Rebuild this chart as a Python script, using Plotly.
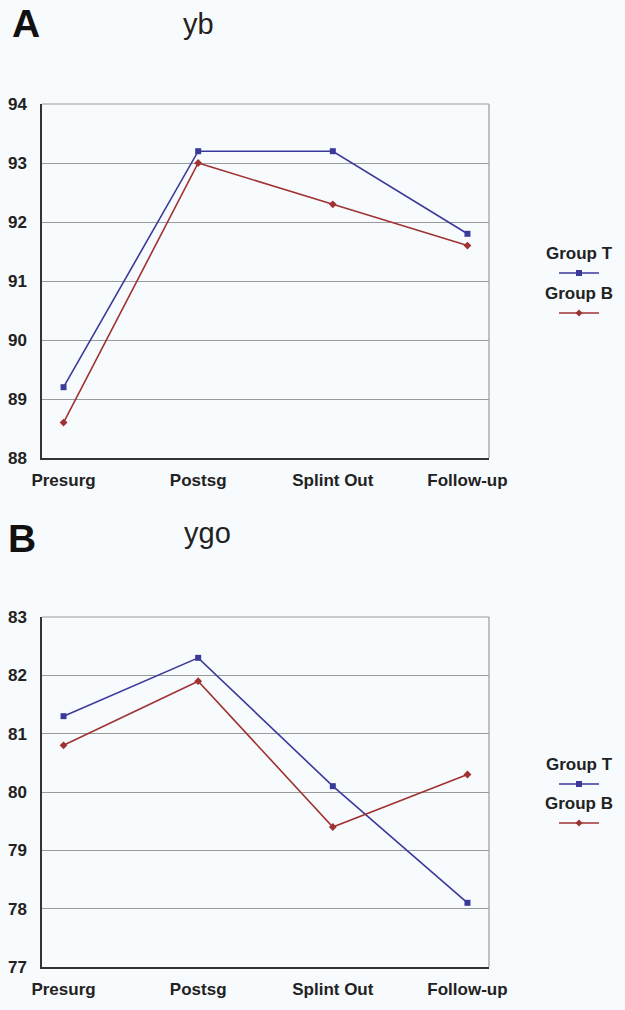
import plotly.graph_objects as go

categories = ["Presurg", "Postsg", "Splint Out", "Follow-up"]
yb_group_t = [89.2, 93.2, 93.2, 91.8]
yb_group_b = [88.6, 93.0, 92.3, 91.6]
ygo_group_t = [81.3, 82.3, 80.1, 78.1]
ygo_group_b = [80.8, 81.9, 79.4, 80.3]
yb_ticks = [88, 89, 90, 91, 92, 93, 94]
ygo_ticks = [77, 78, 79, 80, 81, 82, 83]
series_names = ["Group T", "Group B"]

BLUE = "#3a3a9a"
RED = "#a03232"
BG = "#f8fbfd"
FONT = "Liberation Sans, Arial, sans-serif"
W, H = 625, 1010

def px(x):
    return x / W

def py(y):
    return 1 - y / H

fig = go.Figure()

def add_panel(ax, yt, yb_):
    xa = "x" if ax == 1 else "x2"
    ya = "y" if ax == 1 else "y2"
    fig.add_trace(go.Scatter(x=categories, y=yt, xaxis=xa, yaxis=ya, mode="lines+markers",
                             name=series_names[0], line=dict(color=BLUE, width=1.6),
                             marker=dict(symbol="square", size=6, color=BLUE), showlegend=False))
    fig.add_trace(go.Scatter(x=categories, y=yb_, xaxis=xa, yaxis=ya, mode="lines+markers",
                             name=series_names[1], line=dict(color=RED, width=1.6),
                             marker=dict(symbol="diamond", size=6, color=RED), showlegend=False))

add_panel(1, yb_group_t, yb_group_b)
add_panel(2, ygo_group_t, ygo_group_b)

axis_font = dict(family=FONT, size=17, color="#222", weight="bold")
common_x = dict(domain=[px(42), px(489)], type="category", range=[-0.16, 3.16], showline=True,
                linecolor="#333", linewidth=1.5, showgrid=False, ticks="", tickfont=axis_font,
                fixedrange=True, ticklabelstandoff=6, automargin=False)
common_y = dict(showline=True, linecolor="#333", linewidth=1.5, showgrid=True,
                gridcolor="#9a9a9a", gridwidth=1, ticks="", tickfont=axis_font, zeroline=False,
                ticklabelstandoff=10, fixedrange=True, automargin=False)

fig.update_layout(
    width=W, height=H, autosize=False,
    margin=dict(l=0, r=0, t=0, b=0, pad=0, autoexpand=False),
    paper_bgcolor=BG, plot_bgcolor=BG, showlegend=False,
    xaxis=dict(**common_x, anchor="y"),
    yaxis=dict(**common_y, domain=[py(458), py(104)], range=[88, 94], tickvals=yb_ticks, anchor="x"),
    xaxis2=dict(**common_x, anchor="y2"),
    yaxis2=dict(**common_y, domain=[py(967), py(617)], range=[77, 83], tickvals=ygo_ticks, anchor="x2"),
)

for ya, xr in [("y", "x domain"), ("y2", "x2 domain")]:
    fig.add_shape(type="line", xref=xr, yref=ya + " domain", x0=1, x1=1, y0=0, y1=1,
                  line=dict(color="#9a9a9a", width=1.2))
    fig.add_shape(type="line", xref=xr, yref=ya + " domain", x0=0, x1=1, y0=1, y1=1,
                  line=dict(color="#9a9a9a", width=1))

ann = []
ann.append(dict(text="<b>A</b>", x=px(26), y=py(23), xanchor="center", yanchor="middle",
                font=dict(family=FONT, size=39, color="#111")))
ann.append(dict(text="yb", x=px(198), y=py(24), xanchor="center", yanchor="middle",
                font=dict(family=FONT, size=29, color="#222")))
ann.append(dict(text="<b>B</b>", x=px(22), y=py(538), xanchor="center", yanchor="middle",
                font=dict(family=FONT, size=39, color="#111")))
ann.append(dict(text="ygo", x=px(207), y=py(533), xanchor="center", yanchor="middle",
                font=dict(family=FONT, size=29, color="#222")))

def legend(y_t, y_b):
    for name, yy, col, sym in [(series_names[0], y_t, BLUE, "square"), (series_names[1], y_b, RED, "diamond")]:
        ann.append(dict(text="<b>" + name + "</b>", x=px(579), y=py(yy), xanchor="center",
                        yanchor="middle", font=dict(family=FONT, size=17, color="#222")))
        ly = py(yy + 20)
        fig.add_shape(type="line", xref="paper", yref="paper", x0=px(559), x1=px(599), y0=ly, y1=ly,
                      line=dict(color=col, width=1.6))
        cx = px(579)
        if sym == "square":
            dx, dy = 3 / W, 3 / H
            fig.add_shape(type="rect", xref="paper", yref="paper", x0=cx - dx, x1=cx + dx,
                          y0=ly - dy, y1=ly + dy, fillcolor=col, line=dict(width=0))
        else:
            dx, dy = 3.5 / W, 3.5 / H
            path = f"M {cx - dx} {ly} L {cx} {ly + dy} L {cx + dx} {ly} L {cx} {ly - dy} Z"
            fig.add_shape(type="path", xref="paper", yref="paper", path=path, fillcolor=col,
                          line=dict(width=0))

legend(253, 293)
legend(764, 803)

for a in ann:
    a.update(xref="paper", yref="paper", showarrow=False)
fig.update_layout(annotations=ann)

fig.write_html("out.html", config=dict(displayModeBar=False, responsive=False),
               post_script="document.body.style.margin='0';document.body.style.overflow='hidden';")
